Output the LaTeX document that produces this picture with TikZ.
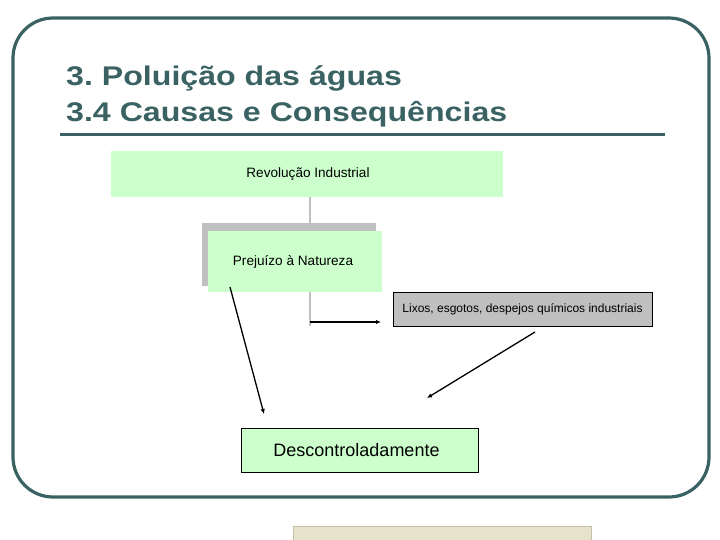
\documentclass[tikz,border=0pt]{standalone}
\usepackage{fontspec}
\setmainfont{Liberation Sans}
\newfontfamily\headfont[FakeStretch=1.19]{Liberation Sans}
\usetikzlibrary{arrows.meta,positioning,calc}
\definecolor{slateteal}{HTML}{3B6262}
\definecolor{palegreen}{HTML}{CCFFCC}
\definecolor{boxgray}{HTML}{C0C0C0}
\definecolor{sandbeige}{HTML}{E6E3CA}
\tikzstyle{arrow} = [
    line width=1.3pt,
    -{Latex[length=5pt,width=4.5pt]},
    draw=black
]

\begin{document}
\frenchspacing
\begin{tikzpicture}[
    x=1pt, y=-1pt,
    every node/.style={
        inner sep=0pt,
        align=center,
        font=\fontsize{13.6}{16}\selectfont
    },
    greenbox/.style={
        fill=palegreen
    },
    titletext/.style={
        anchor=base west,
        text=slateteal,
        font=\headfont\fontsize{27}{32}\selectfont\bfseries
    },
    stem/.style={
        line width=2.5pt,
        draw=boxgray
    }
]
\useasboundingbox (0,0) rectangle (720,540);

% Frame and title
\draw[slateteal, line width=3.2pt, rounded corners=40pt] (13,18) rectangle (709,497);
\node[titletext] (title1) at (66,86) {3. Poluição das águas};
\node[titletext] (title2) at (66,122) {3.4 Causas e Consequências};
\draw[slateteal, line width=3pt] (60,134.5) -- (665,134.5);

% Org stem
\coordinate (stemend) at (310,326);
\coordinate (hook) at (310,322);
\coordinate (hooktip) at (381,322);

% Nodes
\node (revolucao) [greenbox, minimum width=392pt, minimum height=46pt] at (307,174) {\hspace*{2pt}Revolução Industrial};
\draw[stem] (revolucao.south -| stemend) -- (stemend);
\fill[boxgray] (202,223) rectangle (376,286);
\node (prejuizo) [greenbox, minimum width=174pt, minimum height=61pt] at (295,261.5) {\hspace*{-4pt}Prejuízo à Natureza};
\node (lixos) [fill=boxgray, draw=black, line width=0.8pt, minimum width=259pt, minimum height=34pt,
    font=\fontsize{12}{14}\selectfont] at (522.5,309) {Lixos, esgotos, despejos químicos industriais};
\node (descontrole) [greenbox, draw=black, line width=0.8pt, minimum width=237pt, minimum height=44pt,
    font=\fontsize{18}{21}\selectfont] at (359.5,450) {\hspace*{-6pt}Descontroladamente};

% Edges
\coordinate (pstart) at (230,287);
\coordinate (ptip) at (264,414);
\coordinate (lstart) at (535,332);
\coordinate (ltip) at (427,398);
\draw[arrow] (hook) -- (hooktip);
\draw[arrow] (pstart) -- (ptip);
\draw[arrow] (lstart) -- (ltip);

% Footer strip
\fill[sandbeige] (293,526) rectangle (591,540);
\draw[sandbeige!85!black, line width=0.4pt] (293,540) -- (293,526) -- (591,526) -- (591,540);

\end{tikzpicture}
\end{document}
